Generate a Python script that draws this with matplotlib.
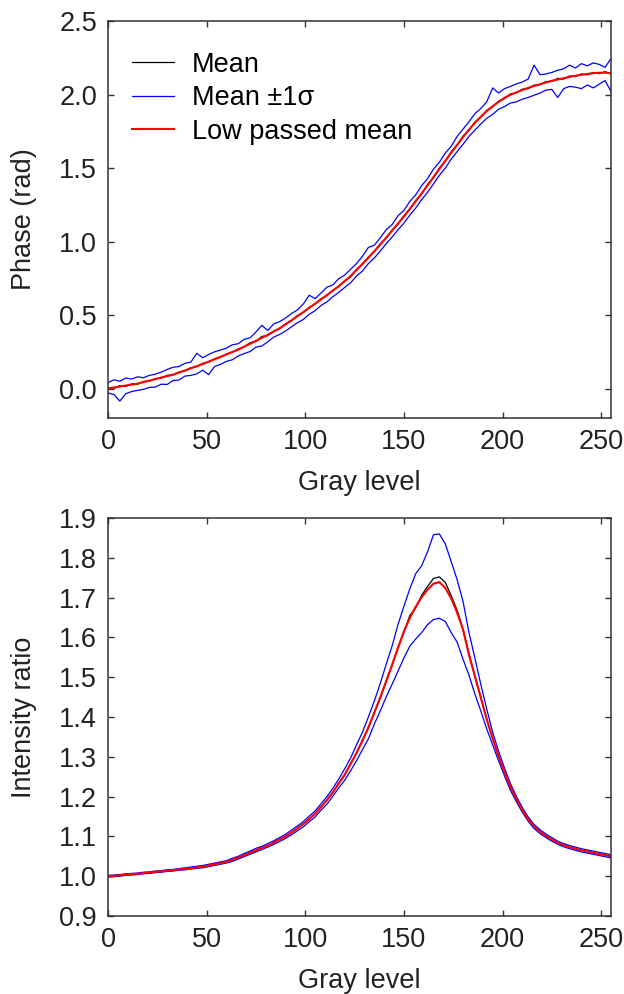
import numpy as np
import matplotlib
matplotlib.use("Agg")
import matplotlib.pyplot as plt
from matplotlib.lines import Line2D

plt.rcParams['font.family'] = ['Liberation Sans', 'DejaVu Sans']

gray_level = np.arange(0, 256, 3)

phase_lowpass = [0.000,0.007,0.014,0.021,0.027,0.034,0.044,0.054,0.064,0.075,
 0.085,0.095,0.109,0.123,0.138,0.152,0.167,0.183,0.199,0.216,
 0.232,0.249,0.265,0.285,0.305,0.325,0.345,0.366,0.388,0.410,
 0.437,0.464,0.492,0.520,0.549,0.578,0.607,0.636,0.666,0.697,
 0.730,0.765,0.806,0.848,0.890,0.934,0.979,1.026,1.074,1.122,
 1.170,1.222,1.274,1.327,1.382,1.438,1.494,1.549,1.604,1.658,
 1.711,1.761,1.807,1.849,1.887,1.920,1.950,1.977,1.998,2.015,
 2.030,2.045,2.058,2.070,2.082,2.093,2.102,2.111,2.120,2.128,
 2.134,2.140,2.145,2.148,2.149,2.145]

phase_mean = [0.004,0.002,0.020,0.015,0.032,0.030,0.048,0.050,0.068,0.072,
 0.090,0.093,0.113,0.120,0.142,0.150,0.172,0.180,0.203,0.212,
 0.236,0.246,0.270,0.282,0.312,0.320,0.355,0.360,0.392,0.406,
 0.441,0.460,0.497,0.516,0.553,0.575,0.611,0.632,0.670,0.694,
 0.735,0.760,0.812,0.844,0.895,0.930,0.984,1.022,1.078,1.118,
 1.175,1.218,1.280,1.322,1.388,1.434,1.500,1.545,1.610,1.654,
 1.718,1.756,1.813,1.845,1.893,1.916,1.955,1.972,2.004,2.010,
 2.036,2.040,2.064,2.066,2.088,2.089,2.110,2.105,2.126,2.122,
 2.140,2.134,2.150,2.142,2.155,2.140]

phase_upper = [0.040,0.060,0.050,0.072,0.065,0.080,0.074,0.090,0.098,0.112,
 0.130,0.145,0.150,0.172,0.180,0.240,0.210,0.232,0.250,0.262,
 0.275,0.298,0.305,0.335,0.345,0.385,0.430,0.395,0.440,0.455,
 0.480,0.510,0.535,0.575,0.635,0.612,0.650,0.690,0.705,0.748,
 0.772,0.812,0.850,0.900,0.960,0.975,1.025,1.080,1.115,1.175,
 1.212,1.272,1.318,1.380,1.428,1.492,1.540,1.602,1.648,1.715,
 1.765,1.815,1.870,1.905,1.950,2.045,2.010,2.040,2.055,2.072,
 2.085,2.105,2.200,2.135,2.140,2.150,2.165,2.175,2.200,2.180,
 2.210,2.195,2.215,2.205,2.185,2.245]

phase_lower = [-0.030,-0.040,-0.085,-0.035,-0.020,-0.012,-0.005,0.008,0.010,0.030,
 0.028,0.055,0.058,0.085,0.090,0.100,0.125,0.095,0.150,0.165,
 0.185,0.196,0.222,0.238,0.252,0.282,0.290,0.318,0.350,0.368,
 0.392,0.420,0.448,0.470,0.505,0.530,0.565,0.590,0.625,0.655,
 0.688,0.720,0.765,0.800,0.850,0.888,0.935,0.985,1.030,1.080,
 1.125,1.180,1.228,1.285,1.335,1.392,1.450,1.500,1.560,1.612,
 1.662,1.715,1.758,1.800,1.838,1.865,1.900,1.918,1.942,1.950,
 1.968,1.980,1.995,2.010,2.030,2.035,1.980,2.040,2.055,2.050,
 2.040,2.065,2.045,2.070,2.095,2.020]

ratio_lowpass = [1.000,1.001,1.002,1.004,1.005,1.006,1.008,1.009,1.011,1.012,
 1.014,1.015,1.017,1.018,1.020,1.022,1.024,1.027,1.030,1.033,
 1.036,1.041,1.047,1.053,1.059,1.065,1.071,1.077,1.085,1.092,
 1.100,1.110,1.120,1.131,1.144,1.157,1.174,1.191,1.211,1.233,
 1.255,1.282,1.310,1.340,1.374,1.410,1.449,1.489,1.531,1.573,
 1.615,1.649,1.677,1.701,1.720,1.735,1.739,1.724,1.698,1.662,
 1.620,1.556,1.503,1.448,1.395,1.346,1.302,1.262,1.225,1.194,
 1.167,1.143,1.125,1.112,1.101,1.092,1.084,1.078,1.073,1.069,
 1.065,1.062,1.059,1.056,1.053,1.050]

ratio_mean = [1.000,1.001,1.002,1.004,1.005,1.006,1.008,1.009,1.011,1.012,
 1.014,1.015,1.017,1.018,1.020,1.022,1.024,1.027,1.030,1.034,
 1.036,1.041,1.046,1.053,1.060,1.064,1.072,1.077,1.084,1.093,
 1.100,1.109,1.121,1.131,1.143,1.158,1.173,1.192,1.210,1.234,
 1.254,1.283,1.309,1.342,1.372,1.412,1.447,1.491,1.529,1.575,
 1.612,1.655,1.674,1.706,1.728,1.748,1.752,1.738,1.705,1.668,
 1.618,1.560,1.501,1.450,1.393,1.347,1.301,1.263,1.224,1.195,
 1.166,1.144,1.125,1.112,1.102,1.091,1.084,1.078,1.073,1.069,
 1.065,1.062,1.059,1.056,1.053,1.050]

ratio_upper = [1.002,1.003,1.004,1.006,1.007,1.008,1.010,1.011,1.013,1.014,
 1.016,1.017,1.019,1.021,1.023,1.025,1.027,1.030,1.033,1.036,
 1.039,1.045,1.050,1.057,1.063,1.070,1.075,1.082,1.089,1.097,
 1.105,1.116,1.126,1.137,1.151,1.164,1.182,1.200,1.221,1.244,
 1.270,1.297,1.330,1.362,1.400,1.440,1.484,1.532,1.578,1.632,
 1.678,1.722,1.760,1.780,1.815,1.858,1.860,1.835,1.790,1.745,
 1.690,1.612,1.548,1.482,1.420,1.362,1.314,1.272,1.233,1.201,
 1.173,1.149,1.130,1.117,1.106,1.097,1.088,1.082,1.077,1.073,
 1.069,1.066,1.063,1.060,1.057,1.054]

ratio_lower = [0.998,0.999,1.000,1.002,1.003,1.004,1.006,1.007,1.009,1.010,
 1.012,1.013,1.015,1.016,1.018,1.020,1.021,1.024,1.027,1.030,
 1.033,1.037,1.043,1.049,1.055,1.061,1.067,1.073,1.080,1.087,
 1.095,1.104,1.114,1.124,1.137,1.149,1.166,1.181,1.201,1.222,
 1.241,1.265,1.290,1.318,1.345,1.382,1.415,1.450,1.482,1.515,
 1.548,1.578,1.596,1.612,1.632,1.645,1.648,1.640,1.612,1.588,
 1.545,1.505,1.458,1.415,1.370,1.330,1.290,1.252,1.216,1.187,
 1.161,1.138,1.120,1.107,1.097,1.088,1.080,1.074,1.069,1.065,
 1.061,1.058,1.055,1.052,1.049,1.046]

legend_labels = ["Mean", "Mean \u00b11\u03c3", "Low passed mean"]

FS = 19.5
TXT = '#222222'
SPINE = '#333333'

fig = plt.figure(figsize=(6.24, 9.94), dpi=100)
ax1 = fig.add_axes([108/624, 1-418/994, 503/624, 397/994])
ax2 = fig.add_axes([108/624, 1-916/994, 503/624, 398/994])

def style(ax):
    for s in ax.spines.values():
        s.set_color(SPINE)
        s.set_linewidth(1.1)
    ax.tick_params(direction='in', length=4, width=1.0, colors=SPINE,
                   labelcolor=TXT, labelsize=FS, top=True, right=True, pad=8)
    ax.set_xlim(0, 255)
    ax.set_xticks([0, 50, 100, 150, 200, 250])

# Top
ax1.plot(gray_level, phase_upper, color='#0000ff', lw=0.9)
ax1.plot(gray_level, phase_lower, color='#0000ff', lw=0.9)
l_mean, = ax1.plot(gray_level, phase_mean, color='black', lw=0.9)
l_red, = ax1.plot(gray_level, phase_lowpass, color='#ff0000', lw=1.5)
h_blue = Line2D([], [], color='#0000ff', lw=0.9)
ax1.set_ylim(-0.2, 2.5)
ax1.set_yticks([0.0, 0.5, 1.0, 1.5, 2.0, 2.5])
ax1.set_yticklabels(['0.0', '0.5', '1.0', '1.5', '2.0', '2.5'])
style(ax1)
ax1.set_xlabel('Gray level', fontsize=FS, color=TXT, labelpad=11)
ax1.set_ylabel('Phase (rad)', fontsize=FS, color=TXT, labelpad=16)
leg = ax1.legend([l_mean, h_blue, l_red], legend_labels, loc='upper left',
                 bbox_to_anchor=(0.048, 0.922), frameon=False, fontsize=FS,
                 handlelength=1.55, handletextpad=0.65, labelspacing=0.27,
                 borderpad=0, borderaxespad=0)
for t in leg.get_texts():
    t.set_color('black')

# Bottom
ax2.plot(gray_level, ratio_upper, color='#0000ff', lw=0.9)
ax2.plot(gray_level, ratio_lower, color='#0000ff', lw=0.9)
ax2.plot(gray_level, ratio_mean, color='black', lw=0.9)
ax2.plot(gray_level, ratio_lowpass, color='#ff0000', lw=1.5)
ax2.set_ylim(0.9, 1.9)
yt = [0.9, 1.0, 1.1, 1.2, 1.3, 1.4, 1.5, 1.6, 1.7, 1.8, 1.9]
ax2.set_yticks(yt)
ax2.set_yticklabels(['%.1f' % v for v in yt])
style(ax2)
ax2.set_xlabel('Gray level', fontsize=FS, color=TXT, labelpad=11)
ax2.set_ylabel('Intensity ratio', fontsize=FS, color=TXT, labelpad=16)

fig.savefig('out.png', dpi=100)
